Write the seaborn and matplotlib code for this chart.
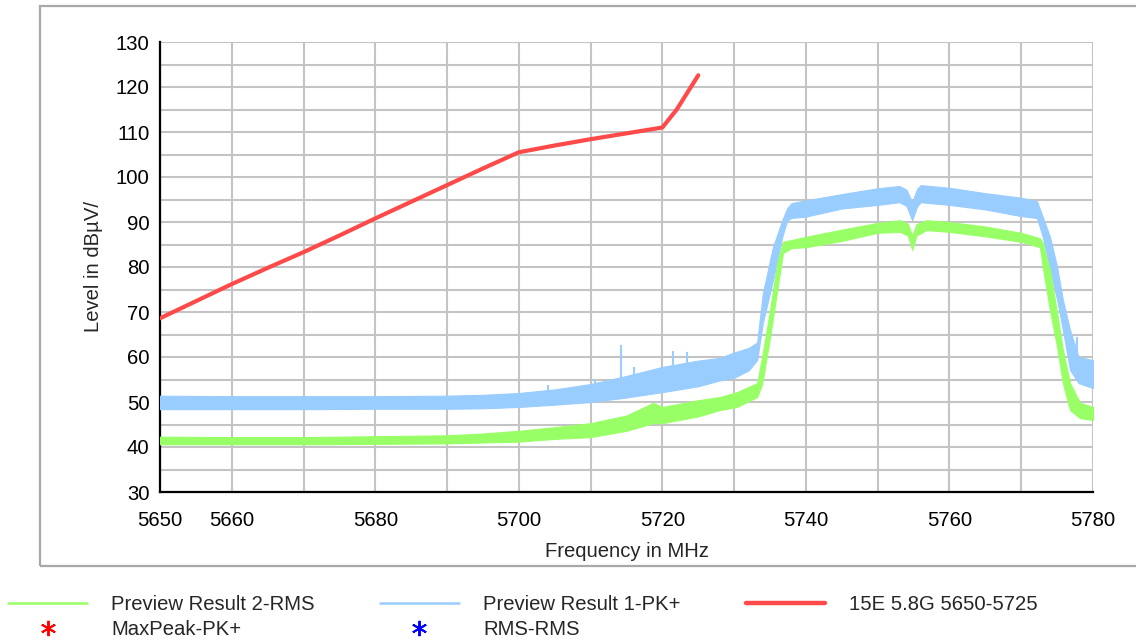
import numpy as np
import matplotlib.pyplot as plt
import matplotlib.patches as mpatches
from matplotlib.lines import Line2D
import seaborn as sns

# ── Data ─────────────────────────────────────────────────────────────────────
# Preview Result 1-PK+ : noisy trace, given as lower / upper envelope
pk_freq = [5650, 5660, 5670, 5680, 5690, 5695, 5700, 5705, 5710, 5715, 5720,
           5725, 5728, 5730, 5732, 5733.2, 5734, 5735.4, 5736.7, 5737.4, 5738,
           5740, 5745, 5750, 5753, 5754, 5754.8, 5755.5, 5756, 5760, 5765,
           5770, 5772.2, 5773, 5774, 5775, 5775.8, 5776.8, 5778, 5780]
pk_low = [48.4, 48.4, 48.4, 48.5, 48.5, 48.6, 48.9, 49.4, 50.0, 51.0, 52.2,
          53.5, 54.8, 55.4, 57.0, 59.3, 67.6, 77.0, 86.7, 90.4, 90.9,
          91.2, 93.0, 93.8, 94.4, 93.6, 90.4, 93.5, 94.4, 93.8, 92.8,
          91.3, 90.9, 86.7, 79.3, 72.7, 66.0, 57.1, 54.2, 53.1]
pk_high = [51.4, 51.3, 51.3, 51.3, 51.4, 51.6, 52.0, 52.8, 54.0, 55.8, 57.8,
           59.2, 59.8, 61.0, 62.0, 63.2, 74.2, 84.4, 90.4, 93.1, 94.2,
           94.8, 96.2, 97.5, 98.0, 97.2, 94.4, 97.4, 98.2, 97.6, 96.4,
           95.4, 94.6, 91.1, 86.7, 80.0, 72.7, 66.0, 60.0, 59.3]
# isolated spikes on the PK+ trace: frequency, foot, top
spike_freq = [5704.0, 5710.6, 5714.2, 5716.0, 5721.5, 5723.4, 5777.8]
spike_foot = [52.0, 53.0, 55.0, 55.0, 57.0, 58.0, 58.0]
spike_top = [53.8, 55.1, 62.7, 57.8, 61.3, 61.2, 64.4]

# Preview Result 2-RMS : lower / upper envelope
rms_freq = [5650, 5660, 5670, 5680, 5690, 5695, 5700, 5705, 5710, 5715,
            5718.7, 5720, 5725, 5728, 5730.4, 5733.2, 5733.9, 5735, 5736,
            5736.8, 5738, 5740, 5745, 5750, 5753.1, 5754.2, 5754.8, 5755.4,
            5756.8, 5760, 5765, 5770, 5772.6, 5773, 5774, 5775, 5775.8,
            5776.8, 5778.2, 5780]
rms_low = [40.6, 40.6, 40.6, 40.7, 40.8, 41.0, 41.2, 41.8, 42.2, 43.6,
           45.3, 45.3, 46.8, 48.2, 48.9, 51.1, 54.0, 64.4, 74.9,
           83.1, 84.2, 84.4, 85.8, 87.6, 87.8, 87.0, 83.8, 87.0,
           88.2, 87.8, 86.8, 85.6, 84.4, 80.0, 70.4, 62.2, 54.2,
           48.2, 46.4, 46.0]
rms_high = [42.3, 42.2, 42.2, 42.4, 42.6, 43.0, 43.6, 44.4, 45.3, 47.0,
            49.8, 48.9, 50.4, 51.1, 52.2, 54.2, 60.0, 70.4, 80.9,
            85.6, 86.0, 86.7, 88.3, 89.8, 90.4, 89.6, 87.0, 89.5,
            90.4, 90.0, 89.0, 87.6, 86.4, 85.3, 79.3, 69.8, 61.6,
            54.2, 49.8, 48.9]

# 15E 5.8G 5650-5725 limit line
limit_freq = [5650, 5655, 5660, 5665, 5670, 5675, 5680, 5685, 5690, 5695,
              5700, 5705, 5710, 5715, 5720, 5722, 5725]
limit_level = [68.6, 72.4, 76.2, 79.8, 83.3, 87.0, 90.8, 94.5, 98.2, 101.9,
               105.5, 107.0, 108.4, 109.7, 111.0, 115.0, 122.6]

x_ticks = list(range(5650, 5781, 10))
x_labels = ["5650", "5660", "", "5680", "", "5700", "", "5720", "", "5740",
            "", "5760", "", "5780"]
y_ticks = list(range(30, 131, 5))
y_labels = [str(v) if v % 10 == 0 else "" for v in y_ticks]

# ── Style ────────────────────────────────────────────────────────────────────
sns.set_style("white")
plt.rcParams["font.family"] = ["Liberation Sans", "DejaVu Sans"]
GREEN = "#99FF66"
BLUE = "#99CCFF"
RED = "#FF4A4A"
FS = 14.6

fig = plt.figure(figsize=(11.36, 6.42), dpi=100)
ax = fig.add_axes([160 / 1136, 1 - 492 / 642, 933 / 1136, 450 / 642])

# outer grey frame
fig.patches.append(mpatches.Rectangle(
    (40 / 1136, 1 - 566 / 642), 1.2, 560 / 642, transform=fig.transFigure,
    fill=False, edgecolor="#A8A8A8", linewidth=1.6, zorder=0))

# traces
ax.fill_between(pk_freq, pk_low, pk_high, color=BLUE, linewidth=0.8,
                edgecolor=BLUE, zorder=3)
ax.vlines(spike_freq, spike_foot, spike_top, color=BLUE, linewidth=1.5, zorder=3)
ax.fill_between(rms_freq, rms_low, rms_high, color=GREEN, linewidth=0.8,
                edgecolor=GREEN, zorder=4)
sns.lineplot(x=limit_freq, y=limit_level, color=RED, linewidth=3.0, ax=ax,
             zorder=5)

# axes, grid, ticks
ax.set_xlim(5650, 5780)
ax.set_ylim(30, 130)
ax.set_xticks(x_ticks)
ax.set_xticklabels(x_labels, fontsize=FS)
ax.set_yticks(y_ticks)
ax.set_yticklabels(y_labels, fontsize=FS)
ax.grid(True, color="#C4C4C4", linewidth=1.5, zorder=1)
ax.set_axisbelow(True)
for side in ["top", "right"]:
    ax.spines[side].set_visible(False)
for side in ["left", "bottom"]:
    ax.spines[side].set_color("black")
    ax.spines[side].set_linewidth(1.6)
ax.tick_params(axis="both", direction="inout", length=11, width=1.5,
               color="black", labelcolor="black")
ax.tick_params(axis="y", pad=2)
ax.tick_params(axis="x", pad=8.5)
ax.set_xlabel("Frequency in MHz", fontsize=FS, labelpad=8)
ax.set_ylabel("Level in dB\u00b5V/", fontsize=FS, labelpad=9)

# legend below the frame
handles = [
    Line2D([], [], color=GREEN, linewidth=1.8),
    Line2D([], [], color="red", linestyle="none", marker=(6, 2, 0),
           markersize=11, markeredgewidth=1.4),
    Line2D([], [], color=BLUE, linewidth=1.8),
    Line2D([], [], color="blue", linestyle="none", marker=(6, 2, 0),
           markersize=11, markeredgewidth=1.4),
    Line2D([], [], color=RED, linewidth=3.2),
]
labels = ["Preview Result 2-RMS", "MaxPeak-PK+", "Preview Result 1-PK+",
          "RMS-RMS", "15E 5.8G 5650-5725"]
fig.legend(handles, labels, ncol=3, loc="upper left",
           bbox_to_anchor=(8 / 1136, 1 - 595 / 642), frameon=False,
           fontsize=FS, handlelength=3.9, handletextpad=1.2,
           columnspacing=3.2, labelspacing=0.3, borderpad=0,
           borderaxespad=0)

plt.savefig("out.png", dpi=100)
plt.close()
